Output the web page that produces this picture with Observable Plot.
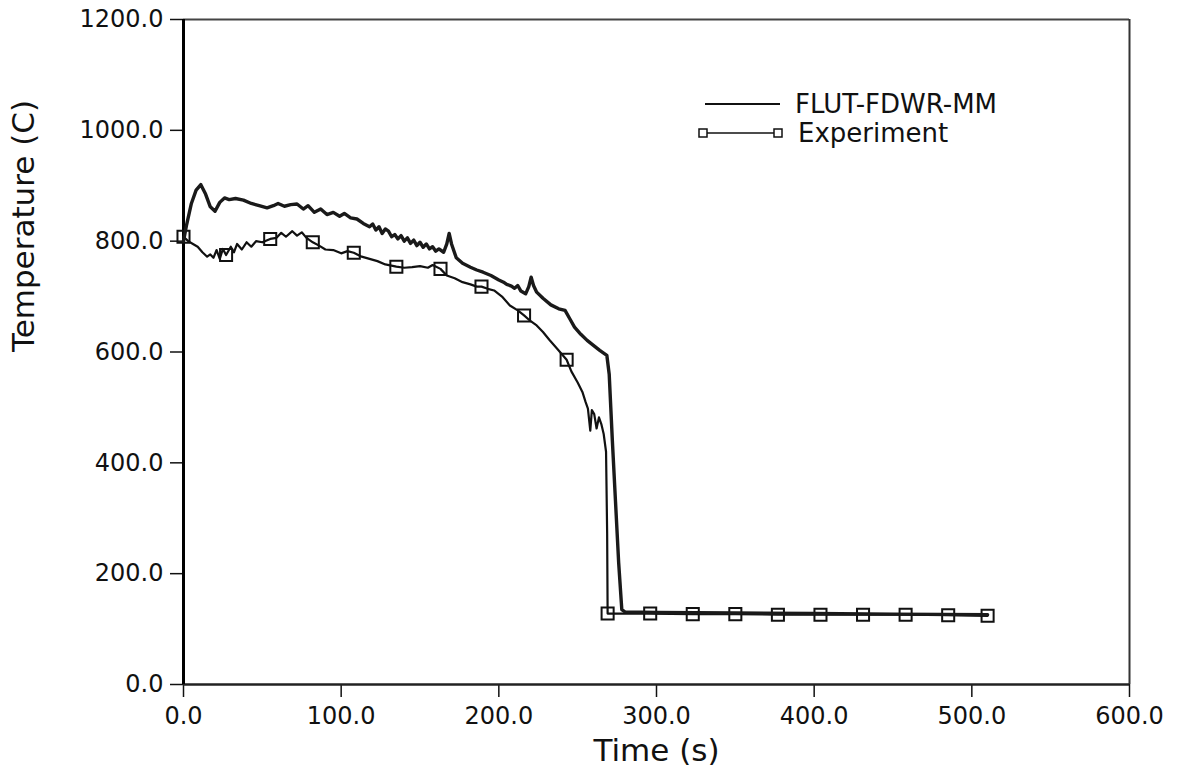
<!DOCTYPE html>
<html>
<head>
<meta charset="utf-8">
<script src="https://cdn.jsdelivr.net/npm/d3@7"></script>
<script src="https://cdn.jsdelivr.net/npm/@observablehq/plot@0.6"></script>
<style>
  html, body { margin: 0; padding: 0; background: #fff; }
  #chart { position: relative; width: 1182px; height: 776px; }
  svg { font-family: "DejaVu Sans", sans-serif; }
</style>
</head>
<body>
<div id="chart"></div>
<script>
// Simulation: FLUT-FDWR-MM
const simTime = [0, 2, 5, 8, 11, 14, 17, 20, 23, 26, 29, 33, 38, 43, 48, 53, 57, 60, 64, 68, 72, 76, 79, 83, 87, 91, 95, 99, 102, 106, 110, 114, 118, 120, 122, 124, 126, 128, 130, 132, 134, 136, 138, 140, 142, 144, 146, 148, 150, 152, 154, 156, 158, 160, 162, 165, 167, 168.5, 170, 173, 177, 182, 186, 190, 195, 200, 203, 205, 208, 210, 212, 214, 217, 219, 220.5, 222, 224, 228, 233, 238, 242, 245, 248, 252, 256, 260, 264, 268.5, 270, 272, 274, 276, 278, 280, 300, 350, 400, 450, 510];
const simTemp = [800, 830, 868, 892, 902, 885, 862, 854, 870, 878, 875, 877, 874, 868, 864, 860, 864, 868, 863, 866, 867, 858, 864, 852, 858, 848, 852, 845, 850, 842, 840, 832, 826, 831, 820, 826, 814, 822, 818, 808, 812, 804, 810, 800, 806, 796, 802, 792, 798, 789, 795, 786, 790, 782, 786, 780, 795, 814, 795, 770, 760, 753, 748, 744, 738, 730, 726, 722, 719, 715, 720, 710, 705, 718, 735, 720, 708, 697, 685, 678, 675, 660, 645, 632, 621, 612, 603, 594, 560, 440, 330, 220, 135, 131, 130, 129, 128, 127, 126];

// Experiment
const expTime = [0, 3, 6, 9, 12, 15, 17, 19, 21, 23, 25, 27, 30, 32, 34, 37, 40, 43, 46, 50, 55, 59, 62, 65, 69, 72, 75, 78, 82, 86, 90, 95, 100, 104, 108, 113, 118, 123, 128, 135, 140, 145, 150, 155, 158, 163, 167, 172, 177, 182, 186, 189, 193, 197, 202, 207, 212, 216, 220, 224, 228, 232, 237, 243, 246, 250, 253, 255, 256.5, 258, 259, 260.5, 262, 263.5, 265, 266.5, 268, 268.7, 269, 296, 323, 350, 377, 404, 431, 458, 485, 510];
const expTemp = [808, 800, 795, 790, 780, 772, 776, 770, 784, 768, 786, 775, 790, 780, 795, 785, 798, 790, 800, 798, 804, 806, 815, 808, 818, 810, 816, 806, 798, 792, 785, 784, 778, 782, 779, 772, 768, 764, 758, 754, 752, 753, 755, 752, 757, 750, 738, 733, 726, 722, 718, 718, 714, 711, 700, 684, 675, 666, 656, 648, 636, 622, 606, 586, 565, 545, 528, 510, 498, 458, 495, 488, 462, 482, 470, 452, 420, 272, 128, 128, 127, 127, 126, 126, 126, 126, 125, 124];
const markerTimes = [0, 27, 55, 82, 108, 135, 163, 189, 216, 243, 269, 296, 323, 350, 377, 404, 431, 458, 485, 510];

const xTicks = [0, 100, 200, 300, 400, 500, 600];
const yTicks = [0, 200, 400, 600, 800, 1000, 1200];
const seriesNames = ["FLUT-FDWR-MM", "Experiment"];
const xTitle = "Time (s)";
const yTitle = "Temperature (C)";

const sim = simTime.map((t, i) => ({t, v: simTemp[i]}));
const exp = expTime.map((t, i) => ({t, v: expTemp[i]}));
const marks = exp.filter(d => markerTimes.includes(d.t));

const fmt = d3.format(".1f");

const plot = Plot.plot({
  width: 1182,
  height: 776,
  marginLeft: 183,
  marginRight: 53,
  marginTop: 19,
  marginBottom: 92,
  style: {fontFamily: "DejaVu Sans, sans-serif", fontSize: "24px", color: "#111", background: "#fff"},
  x: {domain: [0, 600]},
  y: {domain: [0, 1200]},
  marks: [
    Plot.axisX({ticks: xTicks, tickFormat: fmt, tickSize: 13, tickPadding: 9, fontSize: 24, label: null, strokeWidth: 1.5}),
    Plot.axisY({ticks: yTicks, tickFormat: fmt, tickSize: 13, tickPadding: 7, fontSize: 24, label: null, strokeWidth: 1.5}),
    Plot.ruleY([1200], {stroke: "#444", strokeWidth: 2}),
    Plot.ruleX([600], {stroke: "#333", strokeWidth: 2}),
    Plot.ruleY([0], {stroke: "#222", strokeWidth: 2.5}),
    Plot.ruleX([0], {stroke: "#000", strokeWidth: 3}),
    Plot.line(exp, {x: "t", y: "v", stroke: "#111", strokeWidth: 2.2}),
    Plot.dot(marks, {x: "t", y: "v", symbol: "square", r: 6.8, stroke: "#111", strokeWidth: 2, fill: "none"}),
    Plot.line(sim, {x: "t", y: "v", stroke: "#1a1a1a", strokeWidth: 3.4}),
    Plot.text([xTitle], {frameAnchor: "bottom", dy: 67, lineAnchor: "middle", fontSize: 31, fill: "#111"}),
    Plot.text([yTitle], {frameAnchor: "left", dx: -159, rotate: -90, lineAnchor: "middle", fontSize: 31, fill: "#111"})
  ]
});

const svg = d3.select(plot);
const lg = svg.append("g")
  .attr("font-family", "DejaVu Sans, sans-serif")
  .attr("font-size", 26)
  .attr("fill", "#111")
  .attr("text-anchor", "start");
// row 1: simulation
lg.append("line").attr("x1", 705).attr("x2", 780).attr("y1", 104).attr("y2", 104).attr("stroke", "#111").attr("stroke-width", 2);
lg.append("text").attr("x", 795).attr("y", 104).attr("dy", "0.36em").attr("text-anchor", "start").text(seriesNames[0]);
// row 2: experiment
lg.append("line").attr("x1", 703).attr("x2", 778).attr("y1", 133).attr("y2", 133).attr("stroke", "#111").attr("stroke-width", 1.3);
[703, 778].forEach(cx => lg.append("rect").attr("x", cx - 4).attr("y", 129).attr("width", 8).attr("height", 8).attr("fill", "#fff").attr("stroke", "#111").attr("stroke-width", 1.5));
lg.append("text").attr("x", 798).attr("y", 133).attr("dy", "0.36em").attr("text-anchor", "start").text(seriesNames[1]);

document.getElementById("chart").appendChild(plot);
</script>
</body>
</html>
